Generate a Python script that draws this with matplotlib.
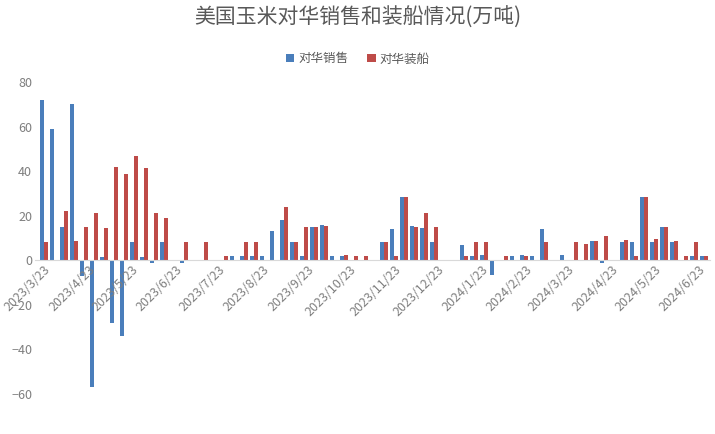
import matplotlib
matplotlib.use("Agg")
import matplotlib.pyplot as plt
import matplotlib.dates as mdates
import numpy as np
import pandas as pd

start_date = "2023-03-23"
sales = [72, 59, 15, 70, -7, -57, 1.5, -28, -34, 8, 1.5, -1, 8, 0, -1, 0, 0, 0, 0, 2,
         2, 2, 2, 13, 18, 8.4, 2, 15, 16, 2, 2, 0, 0, 0, 8, 14, 28.5, 15.5, 14.6, 8,
         0, 0, 7, 2, 2.5, -6.7, 0, 2, 2.3, 2, 14, 0, 2.3, 0, 0, 8.5, -1, 0, 8, 8,
         28.5, 8, 15, 8, 0, 2, 2, 2]
ship = [8, 0, 22, 8.6, 15, 21, 14.6, 42, 38.6, 47, 41.3, 21, 19, 0, 8, 0, 8, 0, 2, 0,
        8, 8, 0, 0, 23.7, 8.4, 15, 15, 15.5, 0, 2.2, 2, 2, 0, 8, 2, 28.5, 15, 21.3, 15,
        0, 0, 2, 8, 8, 0, 2, 0, 2, 0, 8, 0, 0, 8, 7.5, 8.5, 11, 0, 9.3, 2, 28.5, 9.7,
        15, 8.8, 2, 8, 2, 0]
tick_labels = ["2023/3/23", "2023/4/23", "2023/5/23", "2023/6/23", "2023/7/23", "2023/8/23",
               "2023/9/23", "2023/10/23", "2023/11/23", "2023/12/23", "2024/1/23", "2024/2/23",
               "2024/3/23", "2024/4/23", "2024/5/23", "2024/6/23"]

dates = pd.date_range(start_date, periods=len(sales), freq="7D")
x = mdates.date2num(dates)
tick_x = mdates.date2num(pd.to_datetime(tick_labels, format="%Y/%m/%d"))

plt.rcParams["font.family"] = "sans-serif"
plt.rcParams["font.sans-serif"] = ["Noto Sans CJK SC", "Noto Sans CJK JP", "DejaVu Sans"]
fig = plt.figure(figsize=(7.15, 4.34), dpi=100)
ax = fig.add_axes([35/715, 40/434, 675/715, 312/434])
blue, red = "#4a7ebb", "#be4b48"
w = 2.8
ax.bar(x - w/2, sales, width=w, color=blue, label="对华销售")
ax.bar(x + w/2, ship, width=w, color=red, label="对华装船")
ax.set_ylim(-60, 80)
ax.set_xlim(x[0] - 6.3, x[0] + 466)
ax.set_yticks(range(-60, 81, 20))
for s in ["top", "right", "left"]:
    ax.spines[s].set_visible(False)
ax.spines["bottom"].set_position(("data", 0))
ax.spines["bottom"].set_color("#d9d9d9")
ax.tick_params(axis="both", length=0, labelsize=9, colors="#7f7f7f", pad=2)
ax.set_xticks(tick_x)
ax.set_xticklabels(tick_labels)
plt.setp(ax.get_xticklabels(), rotation=45, ha="right", rotation_mode="anchor")
fig.suptitle("美国玉米对华销售和装船情况(万吨)", y=0.985, fontsize=15, color="#595959")
fig.legend(loc="upper center", bbox_to_anchor=(0.5, 0.905), ncol=2, frameon=False,
           fontsize=9, handlelength=0.7, handleheight=0.7, columnspacing=1.5,
           handletextpad=0.3, labelcolor="#595959")
fig.savefig("out.png")
